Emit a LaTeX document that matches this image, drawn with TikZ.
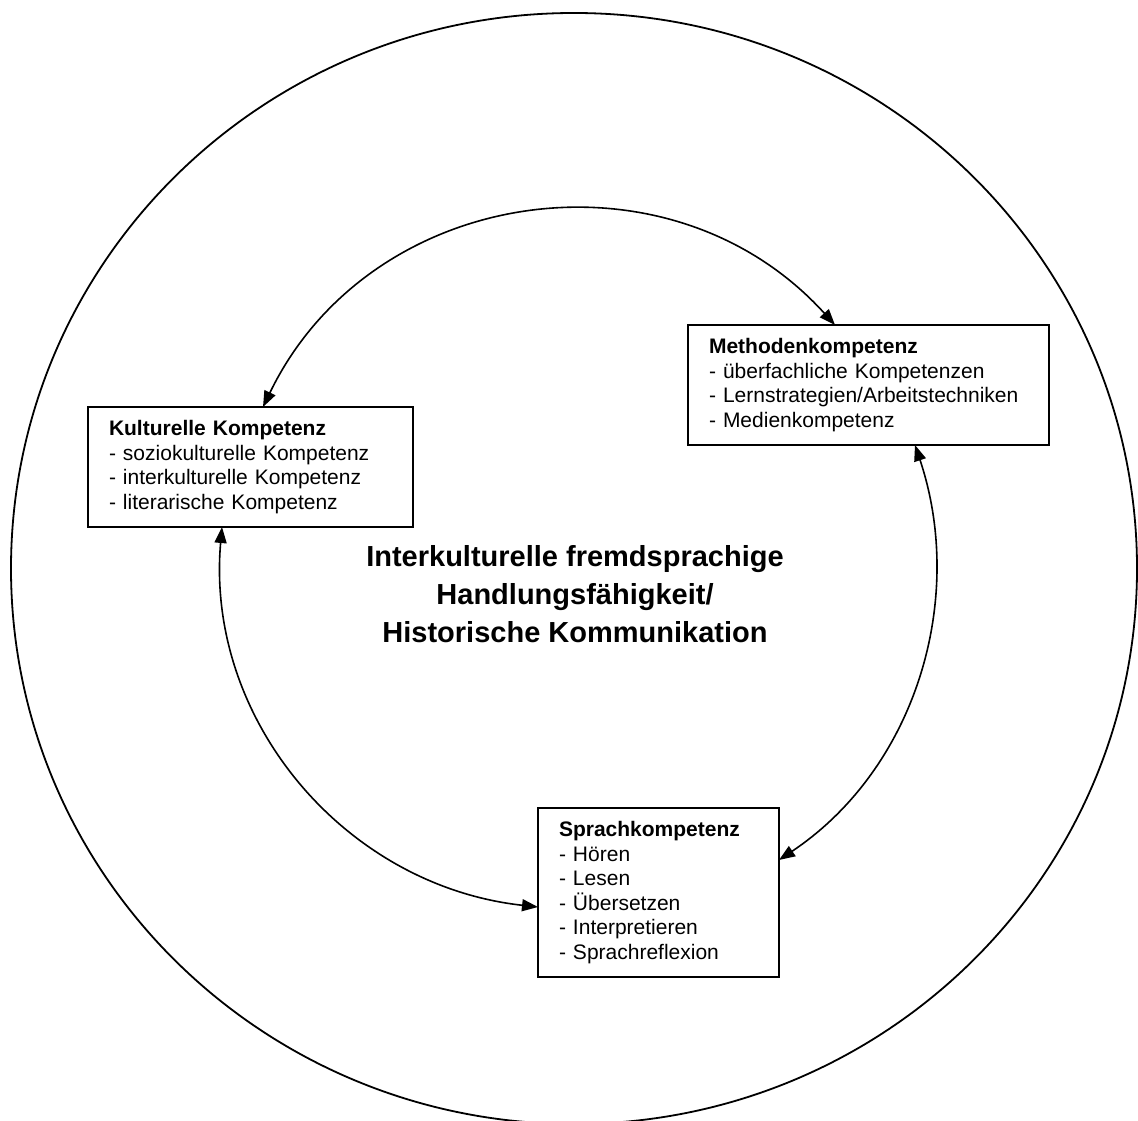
\documentclass[tikz,border=0pt]{standalone}
\usepackage{fontspec}
\setmainfont{Liberation Sans}
\usetikzlibrary{calc,arrows.meta}
\begin{document}
\begin{tikzpicture}[x=0.5pt,y=0.5pt,
  kbox/.style={draw,line width=1.1pt,outer sep=0pt,inner xsep=10.5pt,inner ysep=0pt,
    align=left,font=\fontsize{10.5}{12.25}\selectfont},
  dbl/.style={line width=0.8pt,{Triangle[length=8pt,width=6pt]}-{Triangle[length=8pt,width=6pt]}},
  ring/.style={line width=0.9pt}]
\useasboundingbox[fill=white] (0,0) rectangle (1138,1120);
\draw[ring] (574,551.5) ellipse [x radius=563, y radius=555.5];

\node[kbox,text width=141.5pt,minimum height=60pt] (kul) at (250.5,653)
  {\textbf{Kulturelle Kompetenz}\\- soziokulturelle Kompetenz\\- interkulturelle Kompetenz\\- literarische Kompetenz};
\node[kbox,text width=159.5pt,minimum height=60pt] (met) at (868.5,735)
  {\textbf{Methodenkompetenz}\\- überfachliche Kompetenzen\\- Lernstrategien/Arbeitstechniken\\- Medienkompetenz};
\node[kbox,text width=99.5pt,minimum height=84.5pt] (spr) at (658.5,227.5)
  {\textbf{Sprachkompetenz}\\- Hören\\- Lesen\\- Übersetzen\\- Interpretieren\\- Sprachreflexion};

\node[align=center,inner sep=0pt,font=\bfseries\fontsize{14.5}{19}\selectfont] (mid) at (575,525.5)
  {Interkulturelle fremdsprachige\\Handlungsfähigkeit/\\Historische Kommunikation};

\coordinate (kt) at ($(kul.north west)+(175,0)$);
\coordinate (mt) at ($(met.north west)+(147,0)$);
\coordinate (mb) at ($(met.south west)+(227,0)$);
\coordinate (sr) at ($(spr.north east)+(0,-52)$);
\coordinate (kb) at ($(kul.south west)+(134,0)$);
\coordinate (sl) at ($(spr.north west)+(0,-99)$);

\draw[dbl] (kt) .. controls +(64.2:247) and +(132.2:247) .. (mt);
\draw[dbl] (mb) .. controls +(-71.5:162) and +(33.8:165) .. (sr);
\draw[dbl] (kb) .. controls +(265:194) and +(173.7:194) .. (sl);
\end{tikzpicture}
\end{document}
